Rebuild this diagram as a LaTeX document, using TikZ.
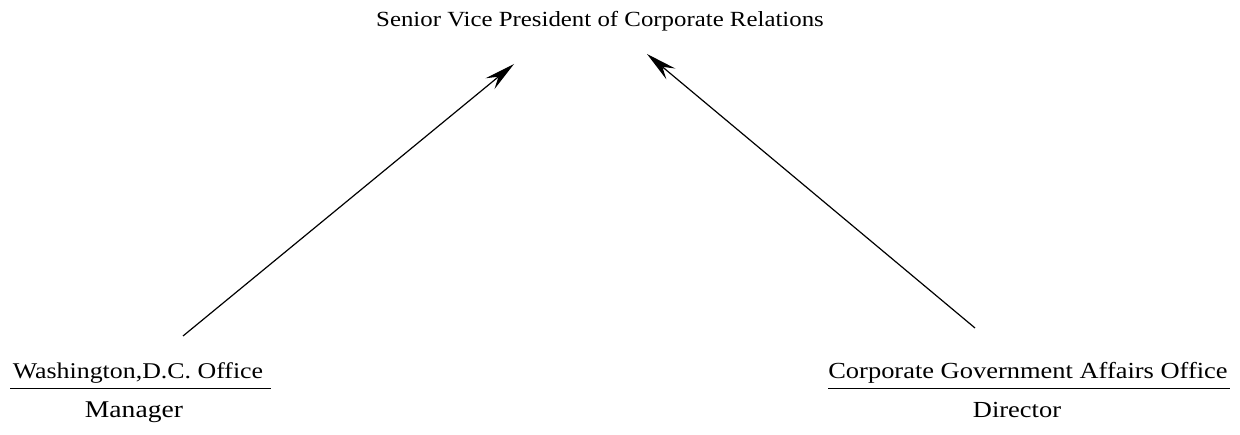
\documentclass[tikz,border=0pt]{standalone}
\usepackage{fontspec}
\setmainfont{Liberation Serif}[FakeStretch=1.15]
\usetikzlibrary{arrows.meta}
\newcommand{\fsz}[1]{\fontsize{#1}{#1}\selectfont}
\begin{document}
\begin{tikzpicture}[x=1pt,y=-1pt,
  lbl/.style={inner sep=0pt},
  link/.style={line width=1.2pt, -{Stealth[length=31pt,width=14pt,inset=11pt]}},
  rule/.style={line width=0.9pt}]
\useasboundingbox (0,0) rectangle (1240,435);
% titles
\node[lbl, anchor=base, font=\fsz{21.6}] (svp) at (600,27) {Senior Vice President of Corporate Relations};
\node[lbl, anchor=base, font=\fsz{22.5}] (wdc) at (138,379) {Washington,D.C. Office};
\node[lbl, anchor=base, font=\fsz{24}] (mgr) at (134,418) {Manager};
\node[lbl, anchor=base, font=\fsz{23}] (cga) at (1028,379) {Corporate Government Affairs Office};
\node[lbl, anchor=base, font=\fsz{23}] (dir) at (1017,418) {Director};
% underlines
\draw[rule] (10,388) -- (271,388);
\draw[rule] (828,388) -- (1230,388);
% reporting lines
\coordinate (wtail) at (183,336);
\coordinate (wtip) at (514,64);
\coordinate (ctail) at (975,328);
\coordinate (ctip) at (647,54);
\draw[link] (wtail) -- (wtip);
\draw[link] (ctail) -- (ctip);
\end{tikzpicture}
\end{document}
